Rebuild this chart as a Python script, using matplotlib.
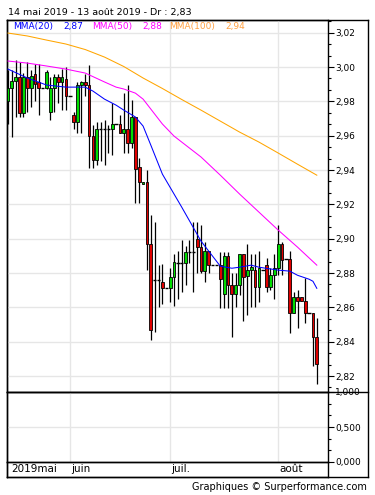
import matplotlib
matplotlib.use("Agg")
import matplotlib.pyplot as plt
from matplotlib.ticker import MultipleLocator, FuncFormatter
from matplotlib.lines import Line2D
import numpy as np

# daily candles (index 0 = 14 mai 2019)
opens = [2.980, 2.988, 2.992, 2.994, 2.973, 2.994, 2.988, 2.996, 2.991, 2.988,
         2.988, 2.974, 2.988, 2.994, 2.991, 2.993, 2.983, 2.972, 2.968, 2.9895,
         2.991, 2.9895, 2.960, 2.946, 2.964, 2.964, 2.964, 2.964, 2.967, 2.967,
         2.9615, 2.964, 2.956, 2.971, 2.942, 2.932, 2.933, 2.897, 2.876, 2.876,
         2.875, 2.871, 2.871, 2.8776, 2.886, 2.886, 2.886, 2.892, 2.892, 2.8997,
         2.895, 2.881, 2.893, 2.8846, 2.8846, 2.8846, 2.8676, 2.890, 2.873, 2.868,
         2.873, 2.891, 2.878, 2.8817, 2.8817, 2.8717, 2.8817, 2.8846, 2.8717, 2.8787,
         2.883, 2.8968, 2.888, 2.888, 2.8566, 2.866, 2.866, 2.864, 2.857, 2.857,
         2.8426]
highs = [2.998, 2.998, 3.004, 3.003, 2.9965, 3.003, 2.998, 3.002, 3.002, 2.988,
         2.998, 2.994, 2.996, 2.996, 2.999, 3.000, 2.983, 2.974, 2.991, 2.992,
         2.996, 3.001, 2.966, 2.968, 2.968, 2.969, 2.966, 2.979, 2.967, 2.972,
         2.985, 2.9895, 2.981, 2.971, 2.947, 2.933, 2.940, 2.914, 2.910, 2.8846,
         2.885, 2.871, 2.883, 2.891, 2.8927, 2.899, 2.896, 2.899, 2.9096, 2.9096,
         2.908, 2.898, 2.893, 2.8846, 2.8846, 2.892, 2.892, 2.892, 2.880, 2.880,
         2.891, 2.891, 2.897, 2.891, 2.891, 2.893, 2.8817, 2.889, 2.883, 2.891,
         2.908, 2.898, 2.888, 2.893, 2.869, 2.870, 2.866, 2.877, 2.857, 2.857,
         2.854]
lows = [2.967, 2.959, 2.971, 2.971, 2.971, 2.974, 2.977, 2.980, 2.972, 2.988,
        2.987, 2.969, 2.974, 2.979, 2.975, 2.975, 2.983, 2.964, 2.9615, 2.9615,
        2.983, 2.941, 2.941, 2.943, 2.945, 2.943, 2.950, 2.949, 2.967, 2.9615,
        2.950, 2.950, 2.953, 2.921, 2.921, 2.932, 2.882, 2.841, 2.8455, 2.860,
        2.862, 2.871, 2.863, 2.861, 2.8647, 2.869, 2.873, 2.886, 2.869, 2.880,
        2.880, 2.875, 2.880, 2.8846, 2.8846, 2.8595, 2.8595, 2.8595, 2.843, 2.860,
        2.867, 2.852, 2.8554, 2.860, 2.860, 2.863, 2.8817, 2.869, 2.870, 2.865,
        2.879, 2.879, 2.888, 2.845, 2.8566, 2.848, 2.864, 2.851, 2.857, 2.826,
        2.8152]
closes = [2.988, 2.992, 2.994, 2.973, 2.994, 2.988, 2.995, 2.990, 2.988, 2.988,
          2.997, 2.988, 2.994, 2.991, 2.994, 2.983, 2.983, 2.968, 2.9895, 2.991,
          2.9895, 2.960, 2.946, 2.964, 2.964, 2.964, 2.964, 2.967, 2.967, 2.9615,
          2.964, 2.956, 2.971, 2.9405, 2.933, 2.933, 2.897, 2.847, 2.876, 2.876,
          2.871, 2.871, 2.8776, 2.8863, 2.886, 2.886, 2.892, 2.892, 2.892, 2.895,
          2.881, 2.893, 2.8846, 2.8846, 2.8846, 2.8764, 2.890, 2.873, 2.868, 2.873,
          2.891, 2.8776, 2.882, 2.8834, 2.8717, 2.8828, 2.8817, 2.8717, 2.8787, 2.8828,
          2.8968, 2.8875, 2.888, 2.8566, 2.866, 2.864, 2.864, 2.857, 2.857, 2.8426,
          2.827]

# moving averages read at a few candle indices
mma20_idx = [0, 5, 10, 15, 20, 22, 25, 28, 30, 33, 35, 37, 40, 45, 50, 55, 58, 60, 63, 65, 70, 73, 75, 78, 79, 80]
mma20 = [2.9988, 2.9936, 2.9895, 2.9883, 2.9883, 2.9860, 2.9813, 2.9778, 2.9749, 2.9709,
         2.9656, 2.9545, 2.9376, 2.9184, 2.8986, 2.8840, 2.8828, 2.8834, 2.8846, 2.8834,
         2.8817, 2.8811, 2.8787, 2.8764, 2.8752, 2.8711]
mma50_idx = [0, 5, 10, 15, 20, 25, 28, 30, 33, 35, 38, 40, 43, 45, 50, 55, 60, 65, 70, 75, 80]
mma50 = [3.0035, 3.0023, 3.0006, 2.9988, 2.9965, 2.9913, 2.9883, 2.9872, 2.9848, 2.9813,
         2.9726, 2.9668, 2.9598, 2.9563, 2.9476, 2.9370, 2.9260, 2.9155, 2.9050, 2.8951,
         2.8846]
mma100_idx = [0, 5, 10, 15, 20, 25, 30, 35, 40, 45, 50, 55, 60, 65, 70, 75, 80]
mma100 = [3.0198, 3.0181, 3.0157, 3.0134, 3.0102, 3.0058, 3.0003, 2.9936, 2.9875, 2.9811,
          2.9749, 2.9685, 2.9621, 2.9563, 2.9499, 2.9434, 2.9370]

month_idx = [0, 16, 42, 70]
month_labels = ["2019mai", "juin", "juil.", "août"]

W, H = 375, 495


def fx(px):
    return px / W


def fy(py):
    return 1 - py / H


grid_c = "#E6E6E6"
plt.rcParams['font.family'] = ['DejaVu Sans']

fig = plt.figure(figsize=(3.75, 4.95), dpi=100)

# outer frame
frame = fig.add_axes([fx(7), fy(477), fx(368) - fx(7), fy(20) - fy(477)])
frame.set_xticks([])
frame.set_yticks([])
for s in frame.spines.values():
    s.set_linewidth(1)

xlim = (-0.26, 82.9)

ax = fig.add_axes([fx(7), fy(392), fx(328) - fx(7), fy(20) - fy(392)])
axv = fig.add_axes([fx(7), fy(462), fx(328) - fx(7), fy(392) - fy(462)])
axd = fig.add_axes([fx(7), fy(477), fx(328) - fx(7), fy(462) - fy(477)])
for a in (ax, axv, axd):
    a.patch.set_alpha(0)
    a.set_xlim(*xlim)
    for s in a.spines.values():
        s.set_linewidth(1)

# candles
x = np.arange(len(opens))
o = np.array(opens)
c = np.array(closes)
ax.vlines(x, lows, highs, color="black", lw=0.9, zorder=3)
for i in range(len(x)):
    if abs(c[i] - o[i]) < 1e-4:
        ax.hlines(o[i], x[i] - 0.45, x[i] + 0.45, color="black", lw=1, zorder=4)
    else:
        col = "#00DD00" if c[i] > o[i] else "#E00000"
        ax.bar(x[i], abs(c[i] - o[i]), bottom=min(o[i], c[i]), width=0.72,
               color=col, edgecolor="black", linewidth=0.6, zorder=4)

ax.plot(mma100_idx, mma100, color="#FFA500", lw=0.75, zorder=5)
ax.plot(mma50_idx, mma50, color="#FF00FF", lw=0.75, zorder=5)
ax.plot(mma20_idx, mma20, color="#0000FF", lw=0.75, zorder=5)

ax.set_ylim(2.8107, 3.0274)
ax.yaxis.tick_right()
ax.yaxis.set_major_locator(MultipleLocator(0.02))
ax.yaxis.set_minor_locator(MultipleLocator(0.02 / 3))
ax.yaxis.set_major_formatter(FuncFormatter(lambda v, p: f"{v:.2f}".replace(".", ",")))
ax.set_xticks(month_idx[1:])
ax.tick_params(axis="x", length=0, labelbottom=False)
ax.tick_params(axis="y", which="major", length=4, width=0.8, labelsize=6.5, pad=1)
ax.tick_params(axis="y", which="minor", length=2.5, width=0.8)
ax.grid(True, color=grid_c, lw=1, zorder=0)
ax.set_axisbelow(True)

# volume panel (empty)
axv.set_ylim(0, 1)
axv.yaxis.tick_right()
axv.yaxis.set_major_locator(MultipleLocator(0.5))
axv.yaxis.set_minor_locator(MultipleLocator(0.5 / 3))
axv.yaxis.set_major_formatter(FuncFormatter(lambda v, p: f"{v:.3f}".replace(".", ",")))
axv.set_xticks(month_idx[1:])
axv.tick_params(axis="x", length=0, labelbottom=False)
axv.tick_params(axis="y", which="major", length=4, width=0.8, labelsize=6.5, pad=1)
axv.tick_params(axis="y", which="minor", length=2.5, width=0.8)
axv.grid(True, color=grid_c, lw=1, zorder=0)

# date strip
axd.set_xticks([])
axd.set_yticks([])
axd.set_ylim(0, 1)
for mi, lab in zip(month_idx, month_labels):
    axd.annotate(lab, (mi, 0.5), xytext=(2.5 if mi == 0 else 1, 0), textcoords="offset points",
                 ha="left", va="center", fontsize=7.5)

# separator across the whole frame
fig.add_artist(Line2D([fx(7), fx(368)], [fy(392), fy(392)], color="black", lw=1))

# texts
fig.text(fx(8), fy(13), "14 mai 2019 - 13 août 2019 - Dr : 2,83", fontsize=6.8,
         ha="left", va="center")
leg = [("MMA(20)", 13, "#0000FF"), ("2,87", 63, "#0000FF"),
       ("MMA(50)", 92, "#FF00FF"), ("2,88", 142, "#FF00FF"),
       ("MMA(100)", 169, "#FFA040"), ("2,94", 225, "#FFA040")]
for t, px, col in leg:
    fig.text(fx(px), fy(27), t, color=col, fontsize=6.5, ha="left", va="center")
fig.text(fx(367), fy(487), "Graphiques © Surperformance.com", fontsize=7,
         ha="right", va="center")

fig.savefig("out.png", dpi=100)
